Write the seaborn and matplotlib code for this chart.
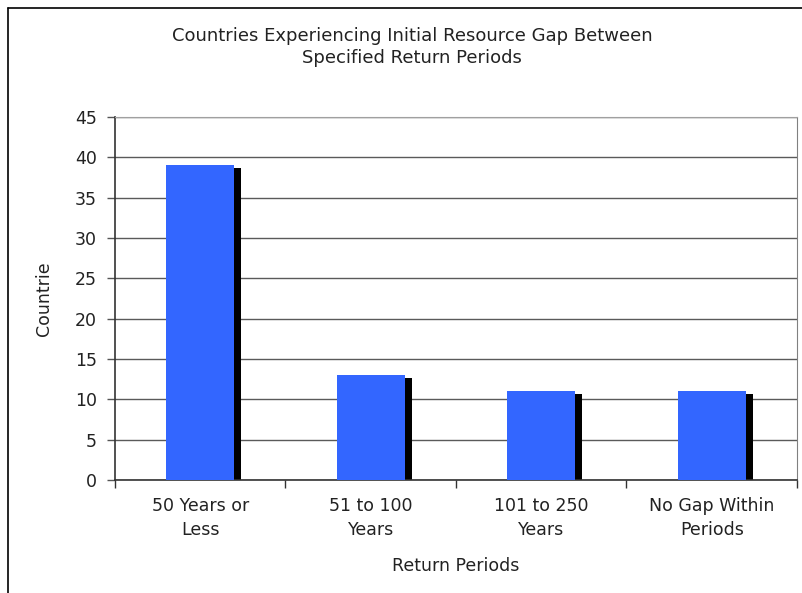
import matplotlib
matplotlib.use("Agg")
import matplotlib.pyplot as plt
from matplotlib.lines import Line2D
import seaborn as sns
import numpy as np

# data
categories = ["50 Years or\nLess", "51 to 100\nYears", "101 to 250\nYears", "No Gap Within\nPeriods"]
countries = [39, 13, 11, 11]
yticks = [0, 5, 10, 15, 20, 25, 30, 35, 40, 45]

sns.set_style("white")
plt.rcParams['font.family'] = ['DejaVu Sans']

fig = plt.figure(figsize=(8.03, 5.93), dpi=100)
ax = fig.add_axes([115 / 803, 1 - 480 / 593, 682 / 803, 363 / 593])

# drop shadow behind each bar (offset right and down a few pixels)
pos = np.arange(len(countries))
ax.bar(pos + 0.041, np.array(countries) - 0.37, width=0.4, color="black",
       linewidth=0, zorder=2)

sns.barplot(x=categories, y=countries, color="#3366FF", saturation=1, width=0.4,
            linewidth=0, ax=ax, zorder=3)

ax.set_xlim(-0.5, len(countries) - 0.5)
ax.set_ylim(0, 45)
ax.set_yticks(yticks)
ax.set_axisbelow(True)
ax.yaxis.grid(True, color="#5a5a5a", linewidth=1)
ax.xaxis.grid(False)

for s in ["left", "bottom"]:
    ax.spines[s].set_color("#333333")
    ax.spines[s].set_linewidth(1.2)
ax.spines["right"].set_color("#808080")
ax.spines["top"].set_color("#a0a0a0")

ax.tick_params(axis="y", direction="out", length=6, width=1, color="#555555",
               labelsize=12.5, labelcolor="#222222", pad=7, left=True)
ax.set_xticks(np.arange(-0.5, len(countries), 1.0), minor=True)
ax.tick_params(axis="x", which="minor", direction="out", length=6, width=1,
               color="#333333", bottom=True)
ax.tick_params(axis="x", which="major", length=0, pad=12, labelsize=12.5,
               labelcolor="#222222")
for lab in ax.get_xticklabels():
    lab.set_linespacing(1.45)

ax.set_xlabel("Return Periods", fontsize=12.5, color="#222222", labelpad=13)
ax.set_ylabel("Countrie", fontsize=12.5, color="#222222", labelpad=16)

fig.text(412 / 803, 1 - 47 / 593,
         "Countries Experiencing Initial Resource Gap Between\nSpecified Return Periods",
         ha="center", va="center", fontsize=13, color="#222222", linespacing=1.35)

# chart frame (left and top edges visible)
fig.add_artist(Line2D([8 / 803, 8 / 803], [0, 1 - 8 / 593], transform=fig.transFigure,
                      color="black", linewidth=1.2))
fig.add_artist(Line2D([8 / 803, 1], [1 - 8 / 593, 1 - 8 / 593], transform=fig.transFigure,
                      color="black", linewidth=1.2))

fig.savefig("out.png", dpi=100)
